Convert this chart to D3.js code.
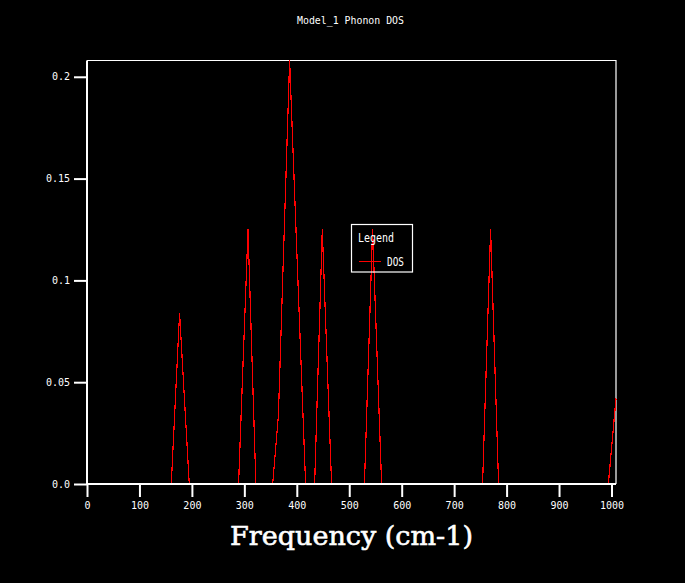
<!DOCTYPE html>
<html><head><meta charset="utf-8">
<script src="https://cdn.jsdelivr.net/npm/d3@7"></script>
<style>html,body{margin:0;padding:0;background:#000;}svg{display:block;}</style>
</head><body>
<svg id="chart" width="685" height="583"></svg>
<script>
const titleText = "Model_1 Phonon DOS";
const xTitle = "Frequency (cm-1)";
const seriesName = "DOS";
// Frequency (cm-1) vertices of the DOS trace
const frequency = [0, 160.7, 176.5, 195, 289, 307, 322, 354, 365, 386.3, 416.8, 434, 448.6, 466.3, 529, 544.5, 561.7, 754.2, 769.5, 784.7, 994, 1008.6];
const dos       = [0, 0, 0.084, 0, 0, 0.125, 0, 0, 0.034, 0.208, 0, 0, 0.125, 0, 0, 0.125, 0, 0, 0.125, 0, 0, 0.042];
const xTicks = [0, 100, 200, 300, 400, 500, 600, 700, 800, 900, 1000];
const yTicks = [0, 0.05, 0.1, 0.15, 0.2];
const yTickLabels = ["0.0", "0.05", "0.1", "0.15", "0.2"];
const xDomain = [0, 1008.6];
const yDomain = [0, 0.208];

const svg = d3.select("#chart");
svg.append("rect").attr("width", 685).attr("height", 583).attr("fill", "#000");

const L = 87, R = 616, T = 60.5, B = 484;
const x = d3.scaleLinear().domain(xDomain).range([L, R]);
const y = d3.scaleLinear().domain(yDomain).range([B, T]);

const mono = "'DejaVu Sans Mono', 'Liberation Mono', monospace";

// plot frame (top/right)
svg.append("path")
  .attr("d", `M${L},${T}H${R}V${B}`)
  .attr("fill", "none").attr("stroke", "#fff").attr("stroke-width", 1.2);

// data line
const pts = frequency.map((f, i) => [f, dos[i]]);
svg.append("path")
  .datum(pts)
  .attr("d", d3.line().x(d => x(d[0])).y(d => y(d[1])))
  .attr("fill", "none").attr("stroke", "#ff0000").attr("stroke-width", 1.2)
  .attr("shape-rendering", "crispEdges");

// x axis
const xAxis = d3.axisBottom(x).tickValues(xTicks).tickSize(13).tickPadding(5).tickFormat(d3.format("d"));
const gx = svg.append("g").attr("transform", `translate(0,${B})`).call(xAxis);
// y axis
const yAxis = d3.axisLeft(y).tickValues(yTicks).tickSize(13).tickPadding(4)
  .tickFormat((d, i) => yTickLabels[i]);
const gy = svg.append("g").attr("transform", `translate(${L},0)`).call(yAxis);

[gx, gy].forEach(g => {
  g.select(".domain").attr("stroke", "#fff").attr("stroke-width", 2);
  g.selectAll(".tick line").attr("stroke", "#fff").attr("stroke-width", 2);
  g.selectAll(".tick text").attr("fill", "#fff").attr("font-family", mono).attr("font-size", 10);
});
gx.select(".domain").attr("d", `M${L},0H${R}`);
gy.select(".domain").attr("d", `M0,${B}V${T}`);

// title
svg.append("text").attr("x", 350.5).attr("y", 24).attr("text-anchor", "middle")
  .attr("fill", "#fff").attr("font-family", mono).attr("font-size", 11)
  .attr("textLength", 107).attr("lengthAdjust", "spacingAndGlyphs")
  .text(titleText);

// x-axis title
svg.append("text").attr("x", 351.5).attr("y", 545).attr("text-anchor", "middle")
  .attr("fill", "#fff").attr("stroke", "#fff").attr("stroke-width", 0.6)
  .attr("font-family", "'DejaVu Serif', 'Liberation Serif', serif")
  .attr("font-size", 26)
  .attr("textLength", 243).attr("lengthAdjust", "spacingAndGlyphs")
  .text(xTitle);

// legend
const lg = svg.append("g");
lg.append("rect").attr("x", 351.5).attr("y", 224.5).attr("width", 61).attr("height", 47.5)
  .attr("fill", "none").attr("stroke", "#fff").attr("stroke-width", 1.2);
lg.append("text").attr("x", 358).attr("y", 242).attr("fill", "#fff")
  .attr("font-family", mono).attr("font-size", 12)
  .attr("textLength", 36).attr("lengthAdjust", "spacingAndGlyphs").text("Legend");
lg.append("line").attr("x1", 359).attr("x2", 381).attr("y1", 261.5).attr("y2", 261.5)
  .attr("stroke", "#ff0000").attr("stroke-width", 1);
lg.append("text").attr("x", 387).attr("y", 265.5).attr("fill", "#fff")
  .attr("font-family", mono).attr("font-size", 12)
  .attr("textLength", 17).attr("lengthAdjust", "spacingAndGlyphs").text(seriesName);
</script>
</body></html>
